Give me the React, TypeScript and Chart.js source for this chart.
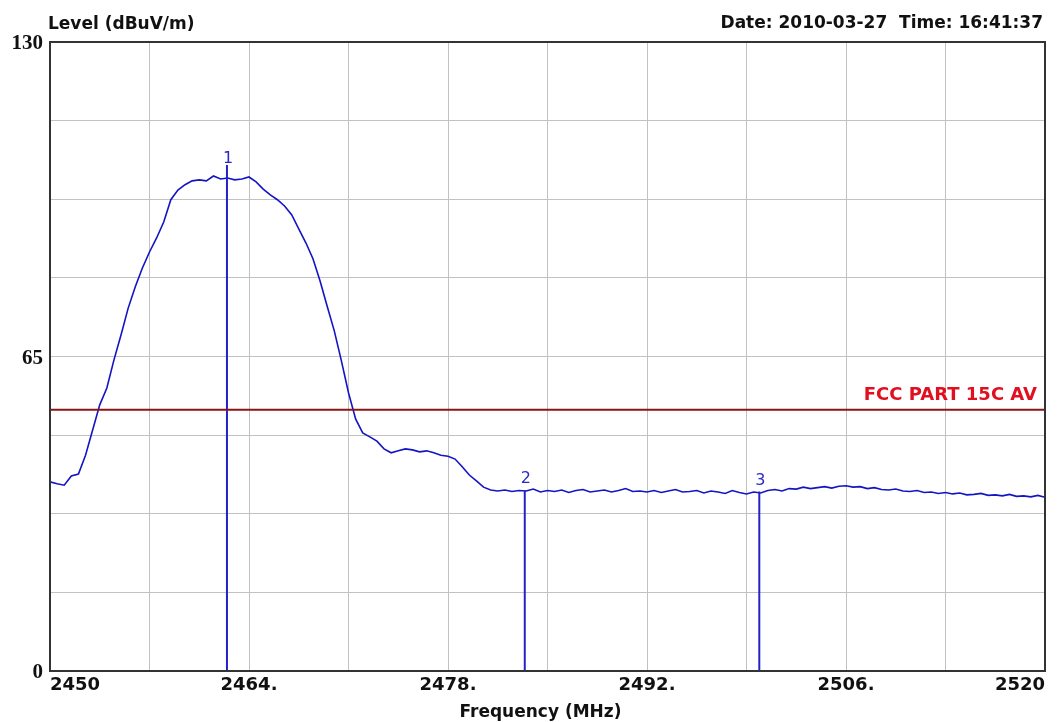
import React, { useEffect, useRef } from 'react';
import { Chart, registerables } from 'chart.js';

Chart.register(...registerables);

// ---- data ----
const freqStart = 2450;
const freqStep = 0.5;
const levels = [
  39.1, 38.7, 38.4, 40.3, 40.7, 44.6, 49.8, 55.0, 58.5, 64.3,
  69.5, 75.0, 79.4, 83.3, 86.6, 89.5, 92.8, 97.4, 99.4, 100.5,
  101.3, 101.5, 101.3, 102.3, 101.7, 101.9, 101.5, 101.7, 102.1, 101.1,
  99.6, 98.4, 97.4, 96.1, 94.3, 91.4, 88.5, 85.2, 80.6, 75.4,
  70.3, 64.1, 57.5, 52.1, 49.2, 48.4, 47.5, 45.9, 45.1, 45.5,
  45.9, 45.7, 45.3, 45.5, 45.1, 44.6, 44.4, 43.8, 42.2, 40.5,
  39.3, 38.0, 37.4, 37.2,
  37.4, 37.1, 37.3, 37.2, 37.6, 37.0, 37.3, 37.1, 37.4, 36.9,
  37.3, 37.5, 37.0, 37.2, 37.4, 37.0, 37.3, 37.7, 37.1, 37.2,
  37.0, 37.3, 36.9, 37.2, 37.5, 37.0, 37.1, 37.3, 36.8, 37.2,
  37.0, 36.7, 37.3, 36.9, 36.6, 37.0, 36.8, 37.3, 37.5, 37.2,
  37.7, 37.6, 38.0, 37.7, 37.9, 38.1, 37.8, 38.2, 38.3, 38.0,
  38.1, 37.7, 37.9, 37.5, 37.4, 37.6, 37.2, 37.1, 37.3, 36.9,
  37.0, 36.7, 36.9, 36.6, 36.8, 36.4, 36.5, 36.7, 36.3, 36.4,
  36.2, 36.5, 36.1, 36.2, 36.0, 36.3, 35.9,
];
const frequencies = levels.map((_, i) => freqStart + i * freqStep);

const xTickValues = [2450, 2457, 2464, 2471, 2478, 2485, 2492, 2499, 2506, 2513, 2520];
const xTickLabels = ['2450', '', '2464.', '', '2478.', '', '2492.', '', '2506.', '', '2520'];
const yTickValues = [0, 16.25, 32.5, 48.75, 65, 81.25, 97.5, 113.75, 130];
const yTickLabels = ['0', '', '', '', '65', '', '', '', '130'];

const limitLevel = 54;
const limitLabel = 'FCC PART 15C AV';

const markerFreqs = [2462.45, 2483.4, 2499.9];
const markerTops = [104.6, 37.3, 37.1];
const markerNames = ['1', '2', '3'];
const markerLabelLevels = [105.8, 39.8, 39.4];

const yAxisTitle = 'Level (dBuV/m)';
const xAxisTitle = 'Frequency (MHz)';
const dateText = 'Date: 2010-03-27  Time: 16:41:37';

const overlayPlugin = {
  id: 'overlay',
  afterDraw(chart: any) {
    const { ctx, chartArea, scales } = chart;
    const x = scales.x;
    const y = scales.y;
    ctx.save();
    // frame
    ctx.strokeStyle = '#333333';
    ctx.lineWidth = 2;
    ctx.strokeRect(chartArea.left, chartArea.top, chartArea.right - chartArea.left, chartArea.bottom - chartArea.top);

    // titles
    ctx.fillStyle = '#111111';
    ctx.font = 'bold 17px "DejaVu Sans"';
    ctx.textBaseline = 'middle';
    ctx.textAlign = 'left';
    ctx.fillText(yAxisTitle, chartArea.left - 2, chartArea.top - 17);
    ctx.textAlign = 'right';
    ctx.fillText(dateText, chartArea.right - 2, chartArea.top - 18);
    ctx.textAlign = 'center';
    ctx.fillText(xAxisTitle, (chartArea.left + chartArea.right) / 2 - 7, chartArea.bottom + 42);

    // limit label
    ctx.fillStyle = '#e01020';
    ctx.font = 'bold 18px "DejaVu Sans"';
    ctx.textAlign = 'right';
    ctx.fillText(limitLabel, chartArea.right - 8, y.getPixelForValue(limitLevel) - 14);

    // marker labels
    ctx.fillStyle = '#2828c8';
    ctx.font = '16px "DejaVu Sans"';
    ctx.textAlign = 'center';
    markerNames.forEach((name, i) => {
      ctx.fillText(name, x.getPixelForValue(markerFreqs[i]) + 1, y.getPixelForValue(markerLabelLevels[i]));
    });
    ctx.restore();
  },
};

export default function App() {
  const canvasRef = useRef<HTMLCanvasElement | null>(null);

  useEffect(() => {
    if (!canvasRef.current) return;
    const traceData = frequencies.map((f, i) => ({ x: f, y: levels[i] }));
    const markerDatasets = markerFreqs.map((f, i) => ({
      label: 'Marker ' + markerNames[i],
      data: [
        { x: f, y: 0 },
        { x: f, y: markerTops[i] },
      ],
      borderColor: '#2222cc',
      borderWidth: 2,
      pointRadius: 0,
      fill: false,
    }));

    const chart = new Chart(canvasRef.current, {
      type: 'line',
      data: {
        datasets: [
          {
            label: limitLabel,
            data: [
              { x: xTickValues[0], y: limitLevel },
              { x: xTickValues[xTickValues.length - 1], y: limitLevel },
            ],
            borderColor: '#8a1515',
            borderWidth: 2,
            pointRadius: 0,
            fill: false,
          },
          ...markerDatasets,
          {
            label: 'Level',
            data: traceData,
            borderColor: '#1414c4',
            borderWidth: 1.6,
            pointRadius: 0,
            tension: 0,
            fill: false,
          },
        ],
      },
      options: {
        responsive: false,
        animation: false,
        devicePixelRatio: 1,
        layout: { padding: { top: 42, right: 16, left: 0, bottom: 0 } },
        plugins: { legend: { display: false }, tooltip: { enabled: false } },
        scales: {
          x: {
            type: 'linear',
            min: 2450,
            max: 2520,
            afterBuildTicks: (s: any) => {
              s.ticks = xTickValues.map((v) => ({ value: v }));
            },
            afterFit: (s: any) => {
              s.height = 51;
            },
            grid: { color: '#c2c2c2', lineWidth: 1, drawTicks: false },
            border: { display: false },
            ticks: {
              align: 'inner',
              padding: 4,
              maxRotation: 0,
              autoSkip: false,
              color: '#111111',
              font: { family: '"DejaVu Sans"', size: 18, weight: 'bold' },
              callback: (_v: any, i: number) => xTickLabels[i],
            },
          },
          y: {
            type: 'linear',
            min: 0,
            max: 130,
            afterBuildTicks: (s: any) => {
              s.ticks = yTickValues.map((v) => ({ value: v }));
            },
            afterFit: (s: any) => {
              s.width = 50;
            },
            grid: { color: '#c2c2c2', lineWidth: 1, drawTicks: false },
            border: { display: false },
            ticks: {
              padding: 7,
              labelOffset: 2,
              autoSkip: false,
              color: '#111111',
              font: { family: '"Liberation Serif"', size: 21, weight: 'bold' },
              callback: (_v: any, i: number) => yTickLabels[i],
            },
          },
        },
      },
      plugins: [overlayPlugin],
    });
    return () => chart.destroy();
  }, []);

  return (
    <div style={{ position: 'fixed', left: 0, top: 0, width: 1061, height: 722, background: '#ffffff' }}>
      <canvas ref={canvasRef} width={1061} height={722} style={{ display: 'block' }} />
    </div>
  );
}
